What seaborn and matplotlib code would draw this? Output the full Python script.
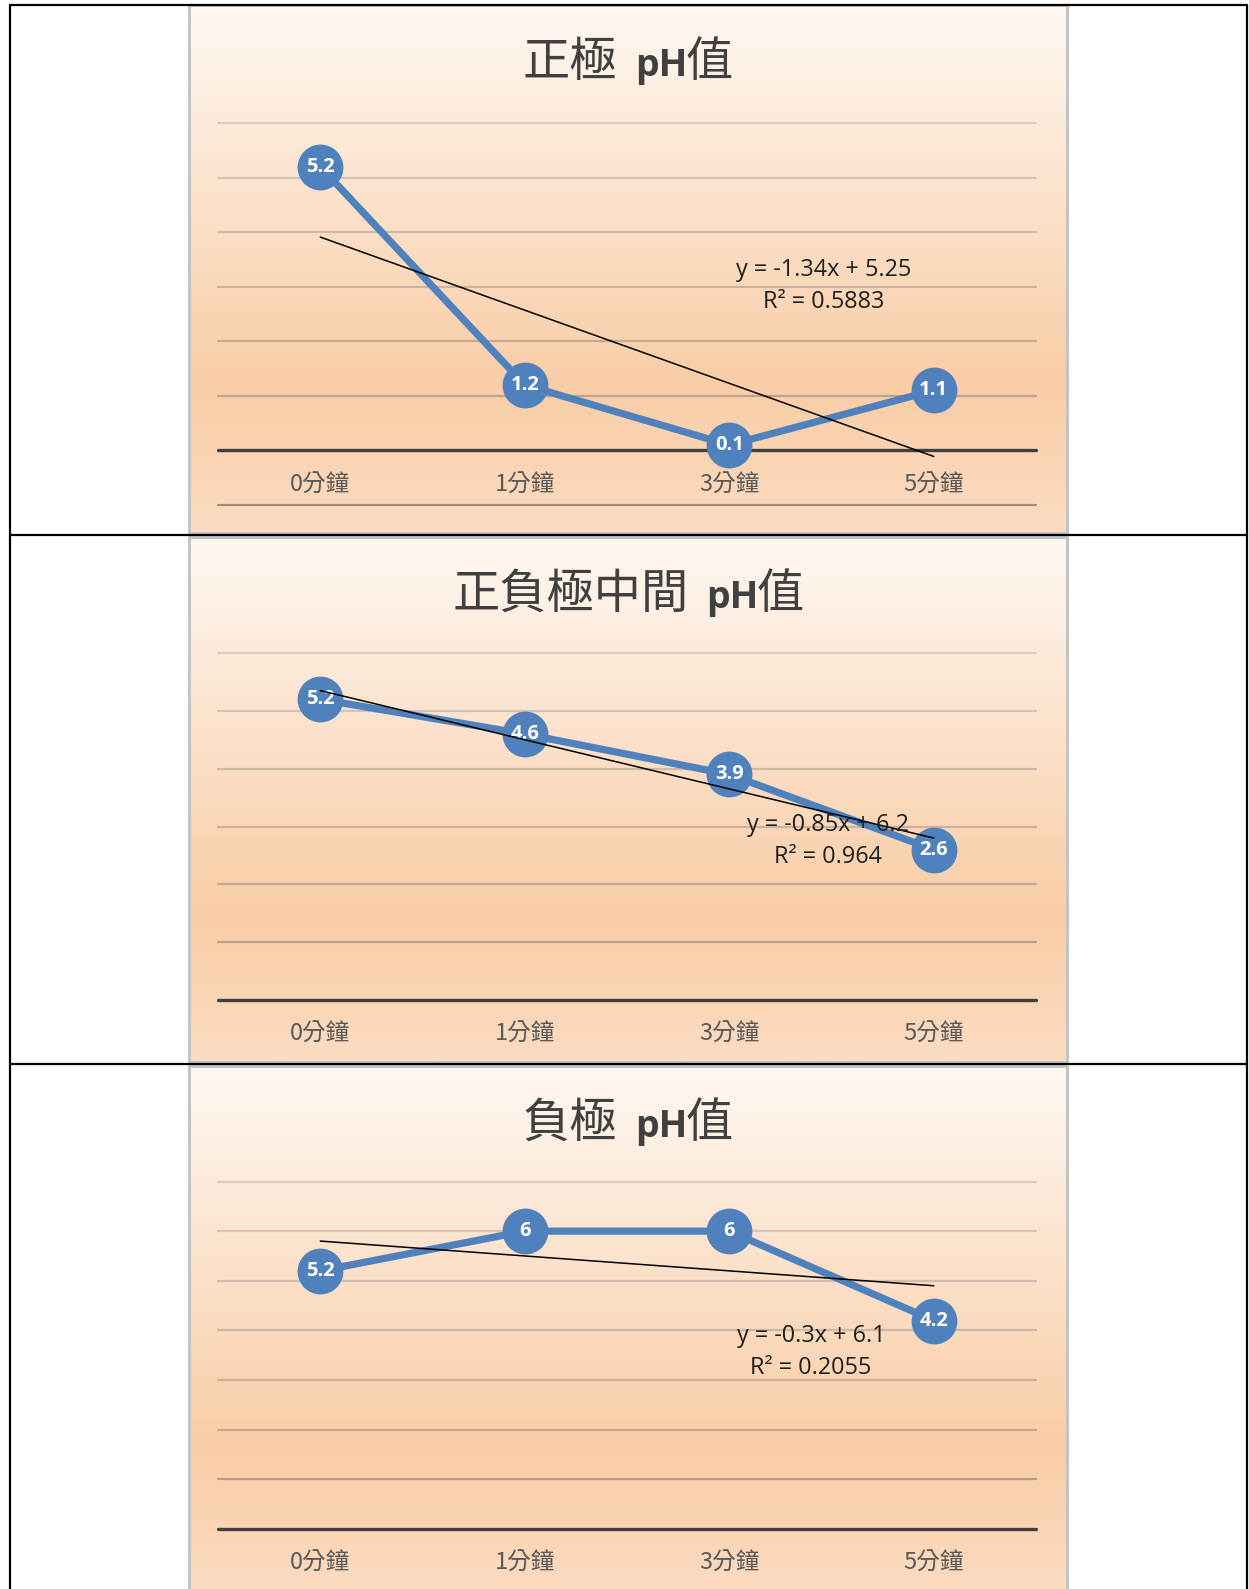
import numpy as np
import pandas as pd
import seaborn as sns
import matplotlib
matplotlib.use("Agg")
import matplotlib.pyplot as plt
from matplotlib.colors import LinearSegmentedColormap
from matplotlib.lines import Line2D
from matplotlib.patches import Rectangle

sns.set_theme(style="white")
plt.rcParams["font.family"] = ["Noto Sans CJK TC", "DejaVu Sans"]

# ---- data ----
categories = ["0分鐘", "1分鐘", "3分鐘", "5分鐘"]
positive_ph = [5.2, 1.2, 0.1, 1.1]
middle_ph = [5.2, 4.6, 3.9, 2.6]
negative_ph = [5.2, 6, 6, 4.2]
title_positive = ["正極", "pH", "值"]
title_middle = ["正負極中間", "pH", "值"]
title_negative = ["負極", "pH", "值"]

# ---- style ----
BLUE = "#4F81BD"
TITLE_COLOR = "#404040"
TICK_COLOR = "#595959"
W, H = 1249, 1589
CHART_X0, CHART_X1 = 189, 1067
PLOT_X0, PLOT_X1 = 218, 1036

bg_cmap = LinearSegmentedColormap.from_list(
    "peach", [(0.0, "#FEF8F2"), (0.72, "#F9CDA6"), (1.0, "#FCDCC2")])
grid_cmap = LinearSegmentedColormap.from_list(
    "gridtone", [(0.0, "#E6DDD6"), (0.7, "#C2A690"), (1.0, "#9C8676")])

fig = plt.figure(figsize=(W / 100, H / 100), dpi=100)
fig.patch.set_facecolor("white")


def fx(x):
    return x / W


def fy(y):
    return 1 - y / H


panels = [
    dict(values=positive_ph, title=title_positive, box=(5, 533),
         plot=(123, 505), ylim=(-1, 6), eq=(824, 270)),
    dict(values=middle_ph, title=title_middle, box=(537, 1062),
         plot=(653, 1000), ylim=(0, 6), eq=(828, 825)),
    dict(values=negative_ph, title=title_negative, box=(1066, 1595),
         plot=(1181.5, 1529), ylim=(0, 7), eq=(811, 1336)),
]

renderer = fig.canvas.get_renderer()
xs = np.arange(1, len(categories) + 1)

for p in panels:
    top, bottom = p["box"]
    # chart background with vertical gradient
    bg = fig.add_axes([fx(CHART_X0), fy(bottom), (CHART_X1 - CHART_X0) / W,
                       (bottom - top) / H], zorder=0)
    grad = np.linspace(0, 1, 512).reshape(-1, 1)
    bg.imshow(grad, cmap=bg_cmap, aspect="auto", extent=[0, 1, 0, 1])
    bg.set_xlim(0, 1)
    bg.set_ylim(0, 1)
    bg.axis("off")
    bg.add_patch(Rectangle((0, 0), 1, 1, transform=bg.transAxes, fill=False,
                           edgecolor="#C4C4C4", lw=2.2, clip_on=False))

    # plot area
    ptop, pbot = p["plot"]
    ax = fig.add_axes([fx(PLOT_X0), fy(pbot), (PLOT_X1 - PLOT_X0) / W,
                       (pbot - ptop) / H], zorder=1)
    ax.patch.set_alpha(0)
    y0, y1 = p["ylim"]
    for v in range(y0, y1 + 1):
        if v == 0:
            ax.axhline(0, color="#404040", lw=2.4, zorder=1, clip_on=False)
        else:
            ypix = pbot - (v - y0) / (y1 - y0) * (pbot - ptop)
            t = (ypix - top) / (bottom - top)
            ax.axhline(v, color=grid_cmap(t), lw=1.6, zorder=1, clip_on=False)

    df = pd.DataFrame({"x": xs, "pH": p["values"]})
    sns.lineplot(data=df, x="x", y="pH", ax=ax, color=BLUE, lw=5.2,
                 marker="o", markersize=33, markeredgecolor=BLUE,
                 markeredgewidth=0, clip_on=False, zorder=3)

    for x, v in zip(xs, p["values"]):
        ax.text(x, v, f"{v:g}", ha="center", va="center", color="white",
                fontsize=14.5, fontweight="bold", family="Open Sans",
                zorder=4, clip_on=False)

    # linear trendline
    sns.regplot(x=xs, y=np.array(p["values"], dtype=float), ax=ax,
                scatter=False, ci=None, truncate=True,
                line_kws=dict(color="black", lw=1.1, zorder=5))
    vals = np.array(p["values"], dtype=float)
    slope, intercept = np.polyfit(xs, vals, 1)
    resid = vals - (slope * xs + intercept)
    r2 = 1 - np.sum(resid ** 2) / np.sum((vals - vals.mean()) ** 2)
    sign = "+" if intercept >= 0 else "-"
    eq1 = f"y = {round(slope, 4):g}x {sign} {abs(round(intercept, 4)):g}"
    eq2 = f"R² = {round(r2, 4):g}"
    ex, ey = p["eq"]
    fig.text(fx(ex), fy(ey), eq1, ha="center", va="center", fontsize=16.8,
             family="Open Sans", color="#1E1E1E", zorder=10)
    fig.text(fx(ex), fy(ey + 32), eq2, ha="center", va="center", fontsize=16.8,
             family="Open Sans", color="#1E1E1E", zorder=10)

    # category labels under the zero axis
    for x, c in zip(xs, categories):
        ax.annotate(c, xy=(x, 0), xytext=(0, -25), textcoords="offset points",
                    ha="center", va="center", fontsize=17, color=TICK_COLOR,
                    annotation_clip=False)

    ax.set_xlim(0.5, 4.5)
    ax.set_ylim(y0, y1)
    ax.set_xlabel("")
    ax.set_ylabel("")
    ax.set_xticks([])
    ax.set_yticks([])
    for s in ax.spines.values():
        s.set_visible(False)

    # title: CJK part regular, "pH" bold
    cjk1, latin, cjk2 = p["title"]
    baseline = top + 71
    t1 = fig.text(0, fy(baseline), cjk1, fontsize=34, color=TITLE_COLOR,
                  ha="left", va="baseline")
    t2 = fig.text(0, fy(baseline), latin, fontsize=27, fontweight="bold",
                  family="Open Sans", color=TITLE_COLOR, ha="left", va="baseline")
    t3 = fig.text(0, fy(baseline), cjk2, fontsize=34, color=TITLE_COLOR,
                  ha="left", va="baseline")
    w1 = t1.get_window_extent(renderer).width
    w2 = t2.get_window_extent(renderer).width
    w3 = t3.get_window_extent(renderer).width
    gap1, gap2 = 18, -2
    total = w1 + gap1 + w2 + gap2 + w3
    start = (CHART_X0 + CHART_X1) / 2 - total / 2
    t1.set_x(fx(start))
    t2.set_x(fx(start + w1 + gap1))
    t3.set_x(fx(start + w1 + gap1 + w2 + gap2))

# table grid lines
for yy in [5, 535, 1064]:
    fig.add_artist(Line2D([fx(10), fx(1247)], [fy(yy), fy(yy)], color="black",
                          lw=1.6, zorder=20))
for xx in [10, 1247]:
    fig.add_artist(Line2D([fx(xx), fx(xx)], [fy(5), fy(1589)], color="black",
                          lw=1.6, zorder=20))

fig.savefig("out.png", dpi=100)
